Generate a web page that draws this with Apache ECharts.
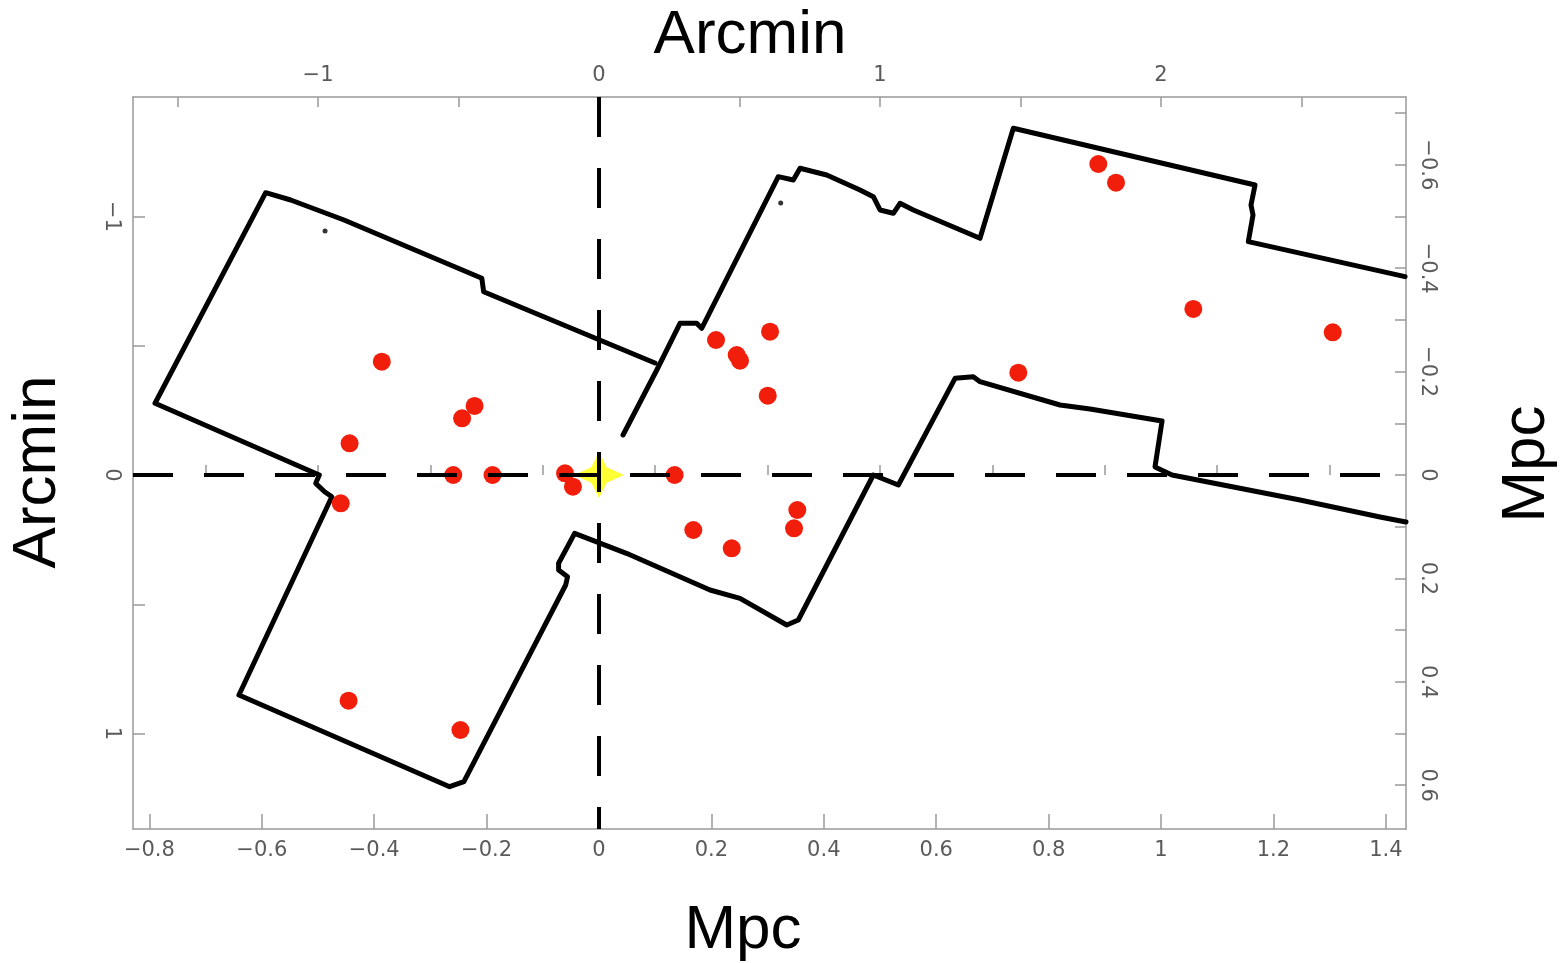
<!DOCTYPE html>
<html>
<head>
<meta charset="utf-8">
<style>
  html, body { margin: 0; padding: 0; background: #fff; }
  #chart { width: 1566px; height: 963px; }
</style>
<script src="https://cdn.jsdelivr.net/npm/echarts@6/dist/echarts.min.js"></script>
</head>
<body>
<div id="chart"></div>
<script>
// plot extents in Mpc (y grows downward, both y axes inverted)
const xRangeMpc = [-0.8292, 1.4359];
const yRangeMpc = [-0.7311, 0.6847];
const arcPerMpc = 2;

// tick / label values
const mpcXMajor = [-0.8, -0.6, -0.4, -0.2, 0, 0.2, 0.4, 0.6, 0.8, 1, 1.2, 1.4];
const mpcXMinor = [-0.7, -0.5, -0.3, -0.1, 0.1, 0.3, 0.5, 0.7, 0.9, 1.1, 1.3];
const arcXLabels = [-1, 0, 1, 2];
const arcXTicks = [-1.5, -1, -0.5, 0, 0.5, 1, 1.5, 2, 2.5];
const arcYLabels = [-1, 0, 1];
const arcYTicks = [-1, -0.5, 0, 0.5, 1];
const mpcYLabels = [-0.6, -0.4, -0.2, 0, 0.2, 0.4, 0.6];
const mpcYTicks = [-0.7, -0.6, -0.5, -0.4, -0.3, -0.2, -0.1, 0, 0.1, 0.2, 0.3, 0.4, 0.5, 0.6];

// field outline, lower chain (left field -> middle -> right), [x, y] in Mpc
const edgeLower = [
  [0.0996, -0.2166], [-0.2053, -0.3545], [-0.2085, -0.3805], [-0.4537, -0.4932],
  [-0.5486, -0.5319], [-0.5931, -0.5460], [-0.7900, -0.1387], [-0.4977, 0.0],
  [-0.5041, 0.0161], [-0.4883, 0.0323], [-0.4754, 0.0420], [-0.6407, 0.4255],
  [-0.2658, 0.6029], [-0.2404, 0.5932], [-0.0593, 0.2128], [-0.0560, 0.1967],
  [-0.0719, 0.1838], [-0.0719, 0.1708], [-0.0434, 0.1128], [0.0488, 0.1515],
  [0.1975, 0.2224], [0.2509, 0.2385], [0.3340, 0.2901], [0.3546, 0.2805],
  [0.4881, 0.0], [0.5326, 0.0193], [0.6335, -0.1870], [0.6660, -0.1901],
  [0.6779, -0.1805], [0.8203, -0.1354], [0.8737, -0.1277], [1.0018, -0.1044],
  [0.9893, -0.0155], [1.0196, 0.0], [1.2473, 0.0484], [1.3897, 0.0812],
  [1.4359, 0.0909]
];

// field outline, upper chain (middle -> right)
const edgeUpper = [
  [0.0427, -0.0774], [0.1028, -0.2031], [0.1441, -0.2934], [0.1738, -0.2934],
  [0.1827, -0.2838], [0.3190, -0.5770], [0.3457, -0.5706], [0.3577, -0.5932],
  [0.4052, -0.5803], [0.4644, -0.5513], [0.4881, -0.5383], [0.5000, -0.5126],
  [0.5237, -0.5062], [0.5356, -0.5255], [0.5593, -0.5126], [0.6779, -0.4578],
  [0.7372, -0.6706], [1.1673, -0.5609], [1.1601, -0.5222], [1.1637, -0.5029],
  [1.1553, -0.4513], [1.4342, -0.3836]
];

// stray specks on the outline
const specks = [[-0.4875, -0.4720], [0.3233, -0.5261]];

// member galaxies (Mpc)
const galX = [-0.3865, -0.2214, -0.2436, -0.4438, -0.4596, -0.2594, -0.1895, -0.0605, -0.0464,
  0.1345, 0.2082, 0.2450, 0.2509, 0.3043, 0.3002, 0.1678, 0.2361, 0.3528, 0.3470,
  0.7461, 0.8884, 0.9199, 1.0575, 1.3055, -0.4456, -0.2466];
const galY = [-0.2192, -0.1335, -0.1097, -0.0613, 0.0547, 0.0, 0.0, -0.0033, 0.0226,
  0.0, -0.2611, -0.2321, -0.2211, -0.2772, -0.1534, 0.1064, 0.1418, 0.0677, 0.1031,
  -0.1979, -0.6015, -0.5654, -0.3211, -0.2760, 0.4366, 0.4932];

// cluster centre
const centre = [[0, 0]];

const chart = echarts.init(document.getElementById('chart'));

const grey = '#999';
const labelFont = { fontFamily: 'DejaVu Sans', fontSize: 21, color: '#5a5a5a' };
const fmt = v => String(Math.round(v * 10) / 10).replace('-', '\u2212');

function axisBase(extra) {
  return Object.assign({
    type: 'value',
    splitLine: { show: false },
    axisLine: { show: true, onZero: false, lineStyle: { color: grey, width: 1.5 } }
  }, extra);
}

const option = {
  animation: false,
  backgroundColor: '#fff',
  grid: { left: 133, right: 160, top: 97, bottom: 134, containLabel: false },
  xAxis: [
    axisBase({
      position: 'bottom', min: xRangeMpc[0], max: xRangeMpc[1],
      axisTick: { inside: true, length: 15, customValues: mpcXMajor, lineStyle: { color: grey, width: 1.5 } },
      axisLabel: Object.assign({ margin: 11, customValues: mpcXMajor, formatter: fmt }, labelFont)
    }),
    axisBase({
      position: 'top', min: xRangeMpc[0] * arcPerMpc, max: xRangeMpc[1] * arcPerMpc,
      axisTick: { inside: true, length: 10, customValues: arcXTicks, lineStyle: { color: grey, width: 1.5 } },
      axisLabel: Object.assign({ margin: 11, customValues: arcXLabels, formatter: fmt }, labelFont)
    }),
    axisBase({
      position: 'bottom', min: xRangeMpc[0], max: xRangeMpc[1],
      axisLine: { show: false },
      axisTick: { inside: true, length: 10, customValues: mpcXMinor, lineStyle: { color: grey, width: 1.5 } },
      axisLabel: { show: false }
    })
  ],
  yAxis: [
    axisBase({
      position: 'left', inverse: true, min: yRangeMpc[0] * arcPerMpc, max: yRangeMpc[1] * arcPerMpc,
      axisTick: { inside: true, length: 12, customValues: arcYTicks, lineStyle: { color: grey, width: 1.5 } },
      axisLabel: Object.assign({ margin: 11, rotate: -90, customValues: arcYLabels, formatter: fmt }, labelFont)
    }),
    axisBase({
      position: 'right', inverse: true, min: yRangeMpc[0], max: yRangeMpc[1],
      axisTick: { inside: true, length: 11, customValues: mpcYTicks, lineStyle: { color: grey, width: 1.5 } },
      axisLabel: Object.assign({ margin: 11, rotate: -90, customValues: mpcYLabels, formatter: fmt }, labelFont)
    })
  ],
  series: [
    {
      type: 'scatter', xAxisIndex: 0, yAxisIndex: 1, z: 1,
      symbol: 'path://M0,-24 L8,-8 L26,0 L8,8 L0,24 L-8,8 L-26,0 L-8,-8 Z',
      symbolSize: [50, 46],
      itemStyle: { color: '#ffff00' },
      data: centre
    },
    {
      type: 'line', xAxisIndex: 0, yAxisIndex: 1, z: 2,
      showSymbol: false, silent: true,
      lineStyle: { color: '#000', width: 5, join: 'round', cap: 'round' },
      data: edgeLower
    },
    {
      type: 'line', xAxisIndex: 0, yAxisIndex: 1, z: 2,
      showSymbol: false, silent: true,
      lineStyle: { color: '#000', width: 5, join: 'round', cap: 'round' },
      data: edgeUpper
    },
    {
      type: 'scatter', xAxisIndex: 0, yAxisIndex: 1, z: 2,
      symbolSize: 5, itemStyle: { color: '#000' },
      data: specks
    },
    {
      type: 'scatter', xAxisIndex: 0, yAxisIndex: 1, z: 3,
      symbolSize: 18, itemStyle: { color: '#f01e0a', opacity: 1 },
      data: galX.map((x, i) => [x, galY[i]])
    },
    {
      type: 'line', xAxisIndex: 0, yAxisIndex: 1, z: 4,
      showSymbol: false, silent: true,
      lineStyle: { color: '#000', width: 4, type: [40, 31] },
      data: [[xRangeMpc[0], 0], [xRangeMpc[1], 0]]
    },
    {
      type: 'line', xAxisIndex: 0, yAxisIndex: 1, z: 4,
      showSymbol: false, silent: true,
      lineStyle: { color: '#000', width: 4, type: [40, 31] },
      data: [[0, yRangeMpc[0]], [0, yRangeMpc[1]]]
    }
  ],
  graphic: [
    { type: 'text', x: 750, y: 36, style: { text: 'Arcmin', font: '62px "Liberation Sans", Arial', fill: '#000', align: 'center', verticalAlign: 'middle' } },
    { type: 'text', x: 743, y: 931, style: { text: 'Mpc', font: '62px "Liberation Sans", Arial', fill: '#000', align: 'center', verticalAlign: 'middle' } },
    { type: 'text', x: 38, y: 472, rotation: Math.PI / 2, style: { text: 'Arcmin', font: '62px "Liberation Sans", Arial', fill: '#000', align: 'center', verticalAlign: 'middle' } },
    { type: 'text', x: 1527, y: 464, rotation: Math.PI / 2, style: { text: 'Mpc', font: '62px "Liberation Sans", Arial', fill: '#000', align: 'center', verticalAlign: 'middle' } }
  ]
};

chart.setOption(option);
</script>
</body>
</html>
